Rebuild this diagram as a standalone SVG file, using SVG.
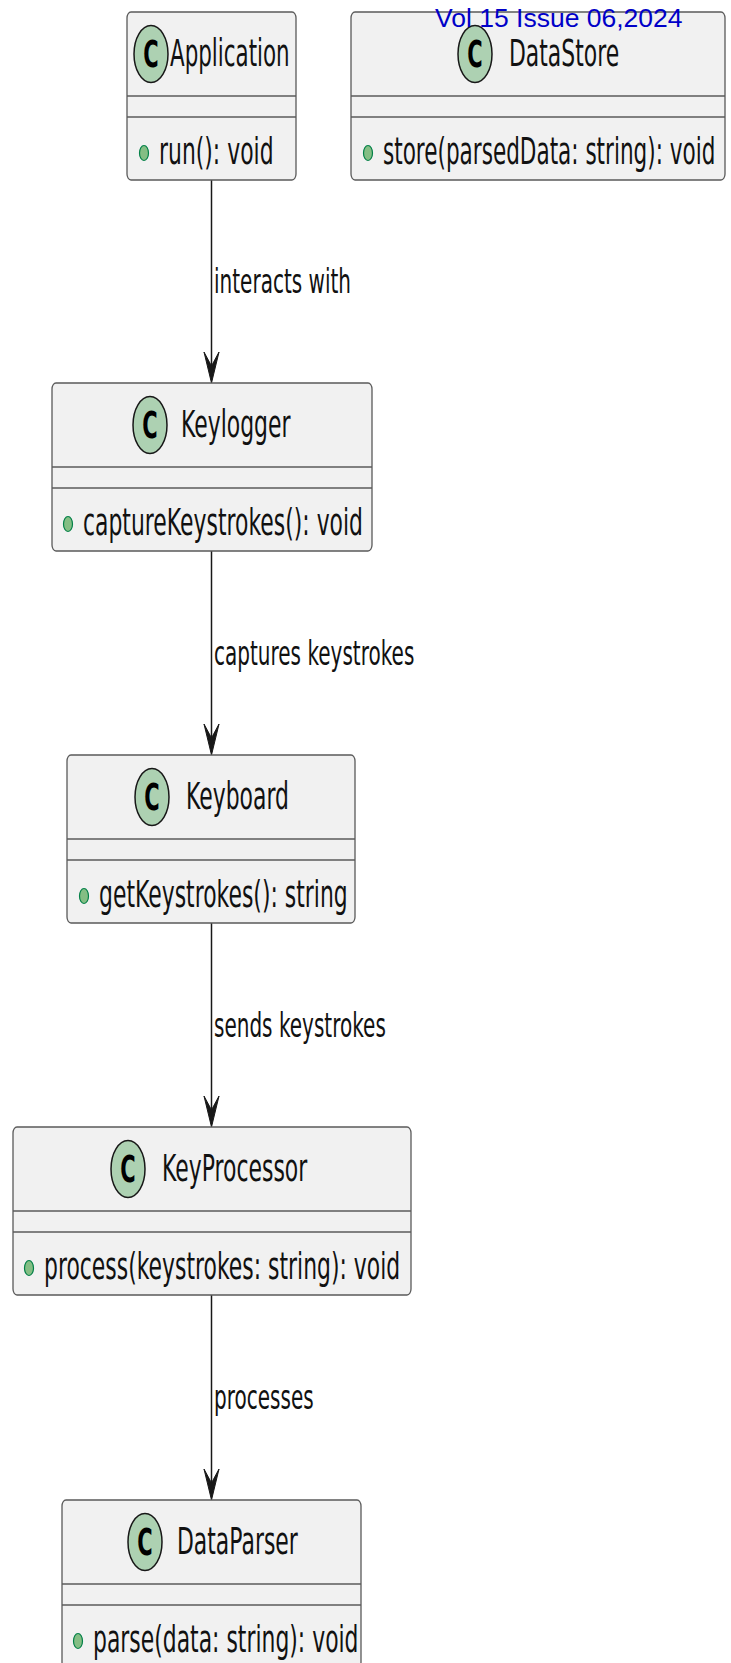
<svg xmlns="http://www.w3.org/2000/svg" width="731" height="1663" viewBox="0 0 731 1663">
<style>
.box{fill:#F1F1F1;stroke:#5a5a5a;stroke-width:1.3}
.sep{stroke:#5a5a5a;stroke-width:1.6}
.cir{fill:#ADD1B2;stroke:#181818;stroke-width:1.5}
.dot{fill:#84BE84;stroke:#038048;stroke-width:1.2}
.t{font-family:"DejaVu Sans",sans-serif;font-size:14px;fill:#111}
.c{font-family:"DejaVu Sans",sans-serif;font-size:14px;font-weight:bold;fill:#000;text-anchor:middle}
.l{font-family:"DejaVu Sans",sans-serif;font-size:13px;fill:#111}
.edge{stroke:#181818;stroke-width:1.5;fill:none}
.head{fill:#181818;stroke:#181818;stroke-width:1}
.wm{font-family:"Liberation Sans",Arial,sans-serif;font-size:26.5px;fill:#0000C8}
</style>
<g id="connectors">
<line class="edge" x1="211.5" y1="180" x2="211.5" y2="380"/>
<polygon class="head" points="211.5,383 204,352 211.5,366 219,352"/>
<text class="l" transform="matrix(1.54 0 0 2.6 214 293)">interacts with</text>
<line class="edge" x1="211.5" y1="551" x2="211.5" y2="752"/>
<polygon class="head" points="211.5,755 204,724 211.5,738 219,724"/>
<text class="l" transform="matrix(1.54 0 0 2.6 214 665)">captures keystrokes</text>
<line class="edge" x1="211.5" y1="923" x2="211.5" y2="1124"/>
<polygon class="head" points="211.5,1127 204,1096 211.5,1110 219,1096"/>
<text class="l" transform="matrix(1.54 0 0 2.6 214 1037)">sends keystrokes</text>
<line class="edge" x1="211.5" y1="1295" x2="211.5" y2="1497"/>
<polygon class="head" points="211.5,1500 204,1469 211.5,1483 219,1469"/>
<text class="l" transform="matrix(1.54 0 0 2.6 214 1409)">processes</text>
</g>
<g id="Application">
<rect class="box" x="127" y="12" width="169" height="168" rx="4" ry="6"/>
<line class="sep" x1="127" y1="96" x2="296" y2="96"/>
<line class="sep" x1="127" y1="117" x2="296" y2="117"/>
<ellipse class="cir" cx="151" cy="54" rx="17" ry="28.5"/>
<text class="c" transform="matrix(1.5 0 0 2.6 151 67)">C</text>
<text class="t" transform="matrix(1.53 0 0 2.6 170 66)">Application</text>
<ellipse class="dot" cx="144" cy="153" rx="4.5" ry="7.5"/>
<text class="t" transform="matrix(1.565 0 0 2.65 159 164)">run(): void</text>
</g>
<g id="DataStore">
<rect class="box" x="351" y="12" width="374" height="168" rx="4" ry="6"/>
<line class="sep" x1="351" y1="96" x2="725" y2="96"/>
<line class="sep" x1="351" y1="117" x2="725" y2="117"/>
<ellipse class="cir" cx="475" cy="54" rx="17" ry="28.5"/>
<text class="c" transform="matrix(1.5 0 0 2.6 475 67)">C</text>
<text class="t" transform="matrix(1.565 0 0 2.6 509 66)">DataStore</text>
<ellipse class="dot" cx="368" cy="153" rx="4.5" ry="7.5"/>
<text class="t" transform="matrix(1.54 0 0 2.65 383 164)">store(parsedData: string): void</text>
</g>
<g id="Keylogger">
<rect class="box" x="52" y="383" width="320" height="168" rx="4" ry="6"/>
<line class="sep" x1="52" y1="467" x2="372" y2="467"/>
<line class="sep" x1="52" y1="488" x2="372" y2="488"/>
<ellipse class="cir" cx="150" cy="425" rx="17" ry="28.5"/>
<text class="c" transform="matrix(1.5 0 0 2.6 150 438)">C</text>
<text class="t" transform="matrix(1.565 0 0 2.6 181 437)">Keylogger</text>
<ellipse class="dot" cx="68" cy="524" rx="4.5" ry="7.5"/>
<text class="t" transform="matrix(1.565 0 0 2.65 83 535)">captureKeystrokes(): void</text>
</g>
<g id="Keyboard">
<rect class="box" x="67" y="755" width="288" height="168" rx="4" ry="6"/>
<line class="sep" x1="67" y1="839" x2="355" y2="839"/>
<line class="sep" x1="67" y1="860" x2="355" y2="860"/>
<ellipse class="cir" cx="152" cy="797" rx="17" ry="28.5"/>
<text class="c" transform="matrix(1.5 0 0 2.6 152 810)">C</text>
<text class="t" transform="matrix(1.565 0 0 2.6 186 809)">Keyboard</text>
<ellipse class="dot" cx="84" cy="896" rx="4.5" ry="7.5"/>
<text class="t" transform="matrix(1.565 0 0 2.65 99 907)">getKeystrokes(): string</text>
</g>
<g id="KeyProcessor">
<rect class="box" x="13" y="1127" width="398" height="168" rx="4" ry="6"/>
<line class="sep" x1="13" y1="1211" x2="411" y2="1211"/>
<line class="sep" x1="13" y1="1232" x2="411" y2="1232"/>
<ellipse class="cir" cx="128" cy="1169" rx="17" ry="28.5"/>
<text class="c" transform="matrix(1.5 0 0 2.6 128 1182)">C</text>
<text class="t" transform="matrix(1.565 0 0 2.6 162 1181)">KeyProcessor</text>
<ellipse class="dot" cx="29" cy="1268" rx="4.5" ry="7.5"/>
<text class="t" transform="matrix(1.565 0 0 2.65 44 1279)">process(keystrokes: string): void</text>
</g>
<g id="DataParser">
<rect class="box" x="62" y="1500" width="299" height="168" rx="4" ry="6"/>
<line class="sep" x1="62" y1="1584" x2="361" y2="1584"/>
<line class="sep" x1="62" y1="1605" x2="361" y2="1605"/>
<ellipse class="cir" cx="145" cy="1542" rx="17" ry="28.5"/>
<text class="c" transform="matrix(1.5 0 0 2.6 145 1555)">C</text>
<text class="t" transform="matrix(1.565 0 0 2.6 177 1554)">DataParser</text>
<ellipse class="dot" cx="78" cy="1641" rx="4.5" ry="7.5"/>
<text class="t" transform="matrix(1.565 0 0 2.65 93 1652)">parse(data: string): void</text>
</g>
<text class="wm" x="435" y="27">Vol 15 Issue 06,2024</text>
</svg>
